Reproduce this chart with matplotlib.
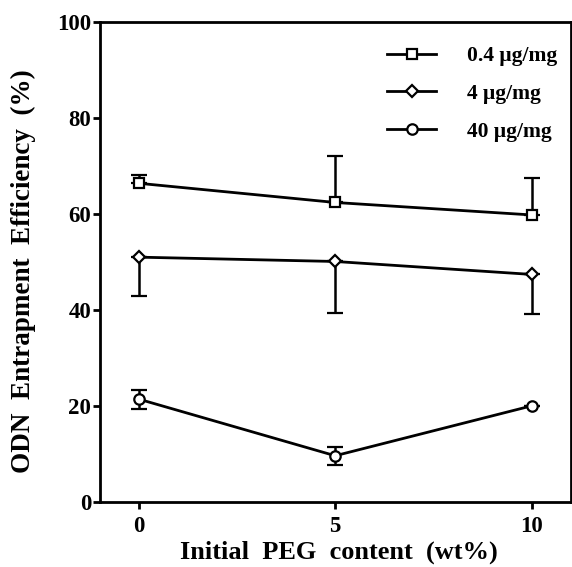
import matplotlib
matplotlib.use("Agg")
import matplotlib.pyplot as plt
import numpy as np

plt.rcParams['font.family'] = ['Liberation Serif', 'DejaVu Serif']
plt.rcParams['font.weight'] = 'bold'

peg = [0, 5, 10]
labels = ['0.4 μg/mg', '4 μg/mg', '40 μg/mg']
sq = [66.4, 62.4, 59.8]
sq_up = [1.7, 9.7, 7.6]
di = [51.0, 50.1, 47.4]
di_dn = [8.1, 10.8, 8.2]
ci = [21.4, 9.6, 20.0]
ci_err = [2.0, 1.9, 0.0]

fig = plt.figure(figsize=(5.72, 5.67), dpi=100)
ax = fig.add_axes([0.174, 0.115, 0.824, 0.846])

lw = 2.0
common = dict(color='black', lw=lw, mfc='white', mec='black', mew=1.6,
              ecolor='black', elinewidth=1.8, capsize=6, capthick=1.8)
ax.errorbar(peg, sq, yerr=[[0, 0, 0], sq_up], marker='s', ms=7, label=labels[0], **common)
ax.errorbar(peg, di, yerr=[di_dn, [0, 0, 0]], marker='D', ms=6, label=labels[1], **common)
ax.errorbar(peg, ci, yerr=ci_err, marker='o', ms=7.5, label=labels[2], **common)

ax.set_xlim(-1, 11)
ax.set_ylim(0, 100)
ax.set_xticks([0, 5, 10])
ax.set_yticks([0, 20, 40, 60, 80, 100])
for s in ax.spines.values():
    s.set_linewidth(2)
ax.tick_params(axis='both', direction='out', width=2, length=5, labelsize=16.5)
ax.tick_params(axis='x', pad=5)
ax.tick_params(axis='y', pad=1)
for t in ax.get_xticklabels() + ax.get_yticklabels():
    t.set_fontweight('bold')

ax.set_xlabel('Initial  PEG  content  (wt%)', fontsize=19, fontweight='bold', va='baseline')
ax.xaxis.set_label_coords(0.508, -0.118)
ax.set_ylabel('ODN  Entrapment  Efficiency  (%)', fontsize=19.5, fontweight='bold', va='center')
ax.yaxis.set_label_coords(-0.162, 0.481)

handles, labs = ax.get_legend_handles_labels()
handles = [h[0] if hasattr(h, '__getitem__') else h for h in handles]
leg = ax.legend(handles, labs, loc='upper right', frameon=False,
                bbox_to_anchor=(1.025, 1.004),
                prop={'weight': 'bold', 'size': 15.5}, handlelength=2.3,
                handletextpad=1.4, labelspacing=0.82, borderaxespad=0.8)

fig.savefig('out.png', dpi=100)
